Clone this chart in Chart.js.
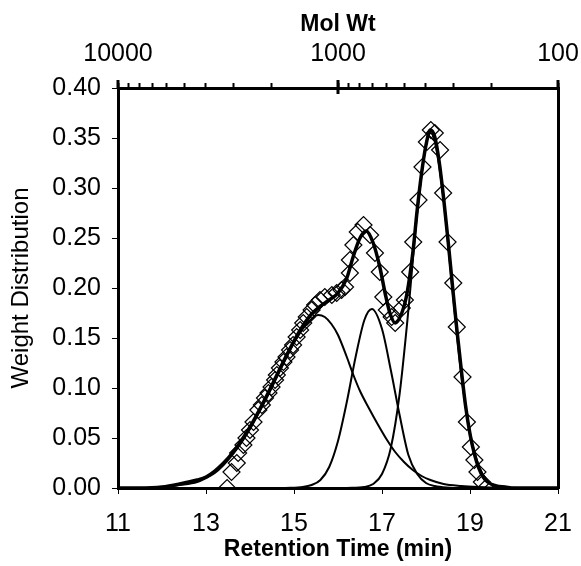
<!DOCTYPE html>
<html>
<head>
<meta charset="utf-8">
<script src="https://cdn.jsdelivr.net/npm/chart.js@4"></script>
<style>
  html, body { margin: 0; padding: 0; background: #fff; }
  #wrap { width: 581px; height: 566px; position: relative; }
</style>
</head>
<body>
<div id="wrap"><canvas id="gpc"></canvas></div>
<script>
// Axis ticks
const xTicks = [11, 13, 15, 17, 19, 21];
const yTicks = [0, 0.05, 0.10, 0.15, 0.20, 0.25, 0.30, 0.35, 0.40];
const molWtTicks = [100, 200, 300, 400, 500, 600, 700, 800, 900,
                    1000, 2000, 3000, 4000, 5000, 6000, 7000, 8000, 9000, 10000];
const molWtLabels = [10000, 1000, 100];

// Measured data (diamonds)
const dataT = [13.48, 13.58, 13.70, 13.73, 13.85, 13.92, 14.00, 14.08, 14.19, 14.27,
               14.34, 14.42, 14.49, 14.57, 14.61, 14.68, 14.76, 14.83, 14.91, 14.98,
               15.06, 15.14, 15.21, 15.29, 15.40, 15.48, 15.59, 15.70, 15.86, 15.97,
               16.08, 16.16, 16.27, 16.27, 16.35, 16.45, 16.58, 16.73, 16.84, 16.95,
               17.03, 17.11, 17.22, 17.30, 17.45, 17.52, 17.64, 17.71, 17.83, 17.92,
               18.02, 18.11, 18.20, 18.32, 18.39, 18.49, 18.62, 18.70, 18.83, 18.93,
               19.02, 19.10, 19.17, 19.27, 19.36];
const dataW = [0.000, 0.016, 0.025, 0.035, 0.043, 0.050, 0.058, 0.066, 0.078, 0.083,
               0.090, 0.095, 0.101, 0.108, 0.113, 0.120, 0.126, 0.131, 0.138, 0.143,
               0.151, 0.158, 0.165, 0.171, 0.178, 0.183, 0.188, 0.191, 0.193, 0.195,
               0.198, 0.201, 0.215, 0.228, 0.243, 0.256, 0.263, 0.253, 0.235, 0.216,
               0.191, 0.178, 0.171, 0.165, 0.180, 0.188, 0.216, 0.246, 0.288, 0.321,
               0.346, 0.358, 0.355, 0.338, 0.295, 0.246, 0.205, 0.161, 0.111, 0.066,
               0.041, 0.028, 0.016, 0.006, 0.000];

// Fitted total
const fitT = [11.0, 11.5, 12.0, 12.4, 12.8, 13.0, 13.2, 13.4, 13.6, 13.8,
              14.0, 14.2, 14.4, 14.6, 14.8, 15.0, 15.2, 15.4, 15.6, 15.8,
              16.0, 16.2, 16.35, 16.5, 16.64, 16.8, 16.95, 17.07, 17.18, 17.3,
              17.45, 17.57, 17.7, 17.8, 17.9, 18.0, 18.1, 18.2, 18.3, 18.4,
              18.5, 18.6, 18.7, 18.8, 18.9, 19.0, 19.1, 19.2, 19.3, 19.4,
              19.6, 19.8, 20.0, 21.0];
const fitW = [0, 0, 0.001, 0.004, 0.008, 0.011, 0.017, 0.025, 0.035, 0.047,
              0.061, 0.077, 0.094, 0.112, 0.130, 0.147, 0.162, 0.174, 0.182, 0.188,
              0.195, 0.210, 0.232, 0.250, 0.257, 0.245, 0.221, 0.195, 0.175, 0.165,
              0.175, 0.195, 0.235, 0.278, 0.315, 0.343, 0.358, 0.351, 0.326, 0.290,
              0.248, 0.203, 0.159, 0.119, 0.082, 0.054, 0.034, 0.020, 0.011, 0.006,
              0.002, 0.001, 0, 0];

// Component peaks
const peak1T = [11.0, 11.5, 12.0, 12.4, 12.8, 13.0, 13.2, 13.4, 13.6, 13.8,
                14.0, 14.2, 14.4, 14.6, 14.8, 15.0, 15.2, 15.4, 15.55, 15.7,
                15.85, 16.0, 16.2, 16.35, 16.5, 16.7, 16.9, 17.1, 17.3, 17.5,
                17.7, 17.9, 18.1, 18.4, 18.8, 19.2, 20.0, 21.0];
const peak1W = [0, 0, 0.001, 0.003, 0.006, 0.010, 0.015, 0.023, 0.033, 0.045,
                0.059, 0.075, 0.092, 0.110, 0.128, 0.145, 0.159, 0.169, 0.173, 0.171,
                0.164, 0.153, 0.131, 0.113, 0.097, 0.080, 0.064, 0.049, 0.036, 0.026,
                0.018, 0.012, 0.008, 0.004, 0.002, 0.001, 0, 0];

const peak2T = [14.8, 15.2, 15.4, 15.6, 15.8, 16.0, 16.2, 16.4, 16.6, 16.77,
                17.0, 17.2, 17.4, 17.6, 17.8, 18.0, 18.2, 18.6];
const peak2W = [0, 0.001, 0.003, 0.008, 0.021, 0.047, 0.086, 0.131, 0.168, 0.179,
                0.159, 0.118, 0.073, 0.033, 0.014, 0.005, 0.002, 0];

const peak3T = [16.2, 16.6, 16.8, 17.0, 17.2, 17.4, 17.6, 17.8, 18.0, 18.1,
                18.2, 18.4, 18.6, 18.8, 19.0, 19.2, 19.4, 19.6, 19.8, 20.2];
const peak3W = [0, 0.001, 0.004, 0.014, 0.040, 0.094, 0.178, 0.275, 0.343, 0.355,
                0.347, 0.288, 0.199, 0.114, 0.055, 0.022, 0.007, 0.002, 0.0004, 0];

function pts(ts, ws) {
  return ts.map((t, i) => ({ x: t, y: ws[i] }));
}

const FONT = "'Liberation Sans', Arial, sans-serif";

function curve(ts, ws, width) {
  return {
    data: pts(ts, ws),
    showLine: true,
    borderColor: "#000",
    borderWidth: width,
    pointRadius: 0,
    cubicInterpolationMode: "monotone",
    fill: false,
  };
}

// horizontal axes: no extra room for the end labels, the frame is fixed
function fixHoriz(height) {
  return s => {
    s.height = height;
    s.paddingLeft = 0;
    s.paddingRight = 0;
  };
}

// Major ticks of the Mol Wt axis (longer, 1000 crosses the frame)
const molWtMajor = {
  id: "molWtMajor",
  afterDraw(chart) {
    const s = chart.scales.x2;
    const ctx = chart.ctx;
    ctx.save();
    ctx.strokeStyle = "#000";
    ctx.lineWidth = 3;
    molWtLabels.forEach(v => {
      const px = Math.round(s.getPixelForValue(v));
      ctx.beginPath();
      ctx.moveTo(px, s.bottom - 8);
      ctx.lineTo(px, s.bottom + (v === 1000 ? 6 : 0));
      ctx.stroke();
    });
    ctx.restore();
  }
};

new Chart(document.getElementById("gpc"), {
  type: "scatter",
  data: {
    datasets: [
      curve(fitT, fitW, 3.5),
      curve(peak1T, peak1W, 2),
      curve(peak2T, peak2W, 2),
      curve(peak3T, peak3W, 2),
      {
        data: pts(dataT, dataW),
        showLine: false,
        pointStyle: "rectRot",
        pointRadius: 8.5,
        pointBorderWidth: 1.2,
        pointBorderColor: "#000",
        pointBackgroundColor: "rgba(0,0,0,0)",
      },
    ],
  },
  options: {
    responsive: true,
    maintainAspectRatio: false,
    animation: false,
    layout: { padding: 0 },
    plugins: { legend: { display: false }, tooltip: { enabled: false } },
    scales: {
      x: {
        type: "linear",
        position: "bottom",
        min: 11,
        max: 21,
        afterBuildTicks: s => { s.ticks = xTicks.map(v => ({ value: v })); },
        afterFit: fixHoriz(78),
        ticks: { color: "#000", font: { family: FONT, size: 25 }, padding: 15, maxRotation: 0 },
        grid: { drawOnChartArea: false, drawTicks: true, tickLength: 6, tickWidth: 1, tickColor: "#000" },
        border: { display: true, color: "#000", width: 3 },
        title: {
          display: true, text: "Retention Time (min)", color: "#000",
          font: { family: FONT, size: 23, weight: "bold" }, padding: { top: 0, bottom: 3 },
        },
      },
      y: {
        type: "linear",
        position: "left",
        min: 0,
        max: 0.4,
        afterBuildTicks: s => { s.ticks = yTicks.map(v => ({ value: v })); },
        afterFit: s => { s.width = 118; s.paddingTop = 0; s.paddingBottom = 0; },
        ticks: { color: "#000", font: { family: FONT, size: 25 }, padding: 11, callback: v => v.toFixed(2) },
        grid: { drawOnChartArea: false, drawTicks: true, tickLength: 6, tickWidth: 1, tickColor: "#000" },
        border: { display: true, color: "#000", width: 3 },
        title: {
          display: true, text: "Weight Distribution", color: "#000",
          font: { family: FONT, size: 24 }, padding: { top: 7, bottom: 0 },
        },
      },
      x2: {
        type: "logarithmic",
        position: "top",
        min: 100,
        max: 10000,
        reverse: true,
        afterBuildTicks: s => { s.ticks = molWtTicks.map(v => ({ value: v })); },
        afterFit: fixHoriz(88),
        ticks: {
          color: "#000", font: { family: FONT, size: 25 }, padding: 14, maxRotation: 0, autoSkip: false,
          callback: v => (molWtLabels.includes(v) ? String(v) : ""),
        },
        grid: { drawOnChartArea: false, drawTicks: true, tickLength: 5, tickWidth: 2, tickColor: "#000" },
        border: { display: true, color: "#000", width: 3 },
        title: {
          display: true, text: "Mol Wt", color: "#000",
          font: { family: FONT, size: 23, weight: "bold" }, padding: { top: 11, bottom: 0 },
        },
      },
      y2: {
        type: "linear",
        position: "right",
        min: 0,
        max: 0.4,
        afterFit: s => { s.width = 23; s.paddingTop = 0; s.paddingBottom = 0; },
        ticks: { display: false },
        grid: { display: false },
        border: { display: true, color: "#000", width: 3 },
      },
    },
  },
  plugins: [molWtMajor],
});
</script>
</body>
</html>
